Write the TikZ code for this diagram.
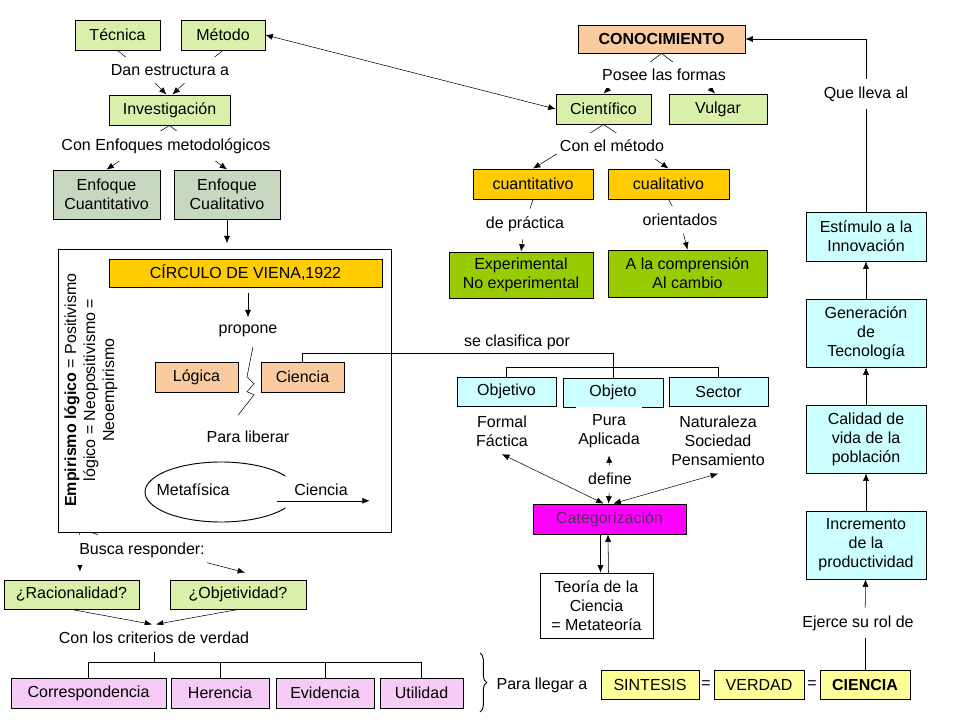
\documentclass[tikz,border=0pt]{standalone}
\usepackage{fontspec}
\setmainfont{Liberation Sans}
\usetikzlibrary{arrows.meta,calc,decorations.pathreplacing}
\definecolor{cmverde}{HTML}{DAF0AA}
\definecolor{cmgris}{HTML}{C8D8C0}
\definecolor{cmdurazno}{HTML}{FACB9E}
\definecolor{cmoro}{HTML}{FFCC00}
\definecolor{cmoliva}{HTML}{99CC00}
\definecolor{cmceleste}{HTML}{CCFFFF}
\definecolor{cmrosa}{HTML}{F6CBF6}
\definecolor{cmmagenta}{HTML}{FF00FF}
\definecolor{cmamarillo}{HTML}{FFFF99}
\definecolor{cmtexto}{HTML}{5A2A66}
\pgfdeclarelayer{fondo}
\pgfsetlayers{fondo,main}
\tikzset{
  concepto/.style={draw, align=center, inner sep=1pt, minimum height=22.5pt},
  enlace/.style={fill=white, align=center, inner xsep=2pt, inner ysep=5.5pt},
  flecha/.style={-{Latex[length=5.5pt,width=4.5pt]}},
  doble/.style={{Latex[length=5.5pt,width=4.5pt]}-{Latex[length=5.5pt,width=4.5pt]}},
}

\begin{document}
\begin{tikzpicture}[x=0.75pt,y=-0.75pt,line width=0.7pt,font=\fontsize{12}{14.25}\selectfont]
  \useasboundingbox (0,0) rectangle (960,720);
  % left column
  \node[concepto, fill=cmverde, minimum width=63.75pt] (tecnica) at (117.5,35) {Técnica};
  \node[concepto, fill=cmverde, minimum width=63pt] (metodo) at (223,35) {Método};
  \node[enlace] (dan) at (170,70) {Dan estructura a};
  \node[concepto, fill=cmverde, minimum width=90.75pt] (investig) at (169.5,110) {Investigación};
  \node[enlace] (conenf) at (166,146) {Con Enfoques metodológicos};
  \node[concepto, fill=cmgris, minimum width=80.25pt, minimum height=36.75pt] (enfcuant) at (106.5,194.5) {Enfoque\\Cuantitativo};
  \node[concepto, fill=cmgris, minimum width=79.5pt, minimum height=36.75pt] (enfcual) at (227,194.5) {Enfoque\\Cualitativo};

  \node[draw, minimum width=249.75pt, minimum height=212.25pt] (empir) at (224.5,390.5) {};
  \node[rotate=90, align=center] (empirtxt) at (91,390) {\textbf{Empirismo lógico} = Positivismo\\lógico = Neopositivismo =\\Neoempirismo};
  \node[concepto, fill=cmoro, minimum width=204.75pt, minimum height=21pt] (circulo) at (245.5,273) {CÍRCULO DE VIENA,1922};
  \node[enlace] (propone) at (248,331) {propone};
  \node[concepto, fill=cmdurazno, minimum width=62.25pt] (logica) at (196.5,377) {Lógica};
  \node[concepto, fill=cmdurazno, minimum width=62.25pt] (cienciab) at (302.5,377) {Ciencia};
  \node[enlace] (liberar) at (248,437) {Para liberar};
  \node (metafisica) at (193,490) {Metafísica};
  \node (cienciac) at (321,490) {Ciencia};

  \node[enlace] (busca) at (142,550) {Busca responder:};
  \node[concepto, fill=cmverde, minimum width=101.25pt, minimum height=21.75pt] (racional) at (71.5,594.5) {¿Racionalidad?};
  \node[concepto, fill=cmverde, minimum width=102pt, minimum height=21.75pt] (objetividad) at (238,594.5) {¿Objetividad?};
  \node[enlace] (criterios) at (154,638) {Con los criterios de verdad};
  \node[concepto, fill=cmrosa, minimum width=116.25pt] (corresp) at (88.5,693) {Correspondencia};
  \node[concepto, fill=cmrosa, minimum width=73.5pt] (herencia) at (220,693) {Herencia};
  \node[concepto, fill=cmrosa, minimum width=73.5pt] (evidencia) at (325,693) {Evidencia};
  \node[concepto, fill=cmrosa, minimum width=62.25pt] (utilidad) at (421.5,693) {Utilidad};

  % bottom row
  \node (llegar) at (542,685) {Para llegar a};
  \node[concepto, fill=cmamarillo, minimum width=73.5pt, minimum height=21.75pt] (sintesis) at (650,684.5) {SINTESIS};
  \node (igual1) at (706,685) {=};
  \node[concepto, fill=cmamarillo, minimum width=67.5pt, minimum height=21.75pt] (verdad) at (759,684.5) {VERDAD};
  \node (igual2) at (812,685) {=};
  \node[concepto, fill=cmamarillo, minimum width=67.5pt, minimum height=21.75pt] (cienciaf) at (865,684.5) {\textbf{CIENCIA}};

  % right column
  \node[concepto, fill=cmceleste, minimum width=90pt, minimum height=36.75pt] (estimulo) at (866,236.5) {Estímulo a la\\Innovación};
  \node[concepto, fill=cmceleste, minimum width=90pt, minimum height=51pt] (generacion) at (866,333) {Generación\\de\\Tecnología};
  \node[concepto, fill=cmceleste, minimum width=90pt, minimum height=51pt] (calidad) at (866,439) {Calidad de\\vida de la\\población};
  \node[concepto, fill=cmceleste, minimum width=90pt, minimum height=51pt] (incremento) at (866,545) {Incremento\\de la\\productividad};
  \node[enlace] (ejerce) at (858,623) {Ejerce su rol de};
  \node[enlace] (quelleva) at (866,94) {Que lleva al};

  % top middle
  \node[concepto, fill=cmdurazno, minimum width=125.25pt, minimum height=21pt] (conoc) at (661.5,39) {\textbf{CONOCIMIENTO}};
  \node[enlace] (posee) at (664,75) {Posee las formas};
  \node[concepto, fill=cmverde, minimum width=71.25pt] (cientifico) at (603.5,109) {Científico};
  \node[concepto, fill=cmverde, minimum width=73.5pt] (vulgar) at (718,109) {Vulgar};
  \node[enlace] (conmet) at (612,146) {Con el método};
  \node[concepto, fill=cmoro, minimum width=90pt] (cuanti) at (533,184) {cuantitativo};
  \node[concepto, fill=cmoro, minimum width=90.75pt] (cuali) at (668.5,184) {cualitativo};
  \node[enlace] (practica) at (525,224) {de práctica};
  \node[enlace] (orientados) at (680,220) {orientados};
  \node[concepto, fill=cmoliva, minimum width=108pt, minimum height=34.5pt] (experim) at (521,275) {Experimental\\No experimental};
  \node[concepto, fill=cmoliva, minimum width=119.25pt, minimum height=35.25pt] (comprension) at (687.5,273.5) {A la comprensión\\Al cambio};

  % middle
  \node[enlace, fill=none] (clasifica) at (517,342) {se clasifica por};
  \node[concepto, fill=cmceleste, minimum width=74.25pt, minimum height=21.75pt] (objetivo) at (506.5,391.5) {Objetivo};
  \node[concepto, fill=cmceleste, minimum width=75pt, minimum height=21.75pt] (objeto) at (613,392.5) {Objeto};
  \node[concepto, fill=cmceleste, minimum width=74.25pt, minimum height=21.75pt] (sector) at (718.5,391.5) {Sector};
  \node[enlace] (formal) at (502,431) {Formal\\Fáctica};
  \node[enlace] (pura) at (609,431) {Pura\\Aplicada};
  \node[enlace] (naturaleza) at (718,441) {Naturaleza\\Sociedad\\Pensamiento};
  \node[enlace] (define) at (610,479) {define};
  \node[concepto, fill=cmmagenta, text=cmtexto, minimum width=114.75pt] (categ) at (609.5,519) {Categorización};
  \node[concepto, fill=white, minimum width=84.75pt, minimum height=48.75pt] (teoria) at (596.5,605.5) {Teoría de la\\Ciencia\\= Metateoría};

  \draw (221,492) ++(32:57pt and 22.5pt) arc[start angle=32, end angle=328, x radius=57pt, y radius=22.5pt];
  \draw[decorate, decoration={brace, amplitude=5pt}] (480,653) -- (480,712);

  \begin{pgfonlayer}{fondo}
    \draw (tecnica.south) -- ($(dan)+(-28,0)$);
    \draw (metodo.south) -- ($(dan)+(28,0)$);
    \draw[flecha] ($(dan)+(-28,0)$) -- ($(investig.north)+(-3,0)$);
    \draw[flecha] ($(dan)+(28,0)$) -- ($(investig.north)+(3,0)$);
    \draw (investig.south) -- ($(conenf)+(-30,0)$);
    \draw (investig.south) -- ($(conenf)+(30,0)$);
    \draw[flecha] ($(conenf)+(-24,0)$) -- (enfcuant.north);
    \draw[flecha] ($(conenf)+(29,0)$) -- (enfcual.north);
    \draw[flecha, shorten >=4pt] (enfcual.south) -- (enfcual.south |- empir.north);
    \draw[flecha, shorten <=4.5pt] (propone.north |- circulo.south) -- (propone.north);
    \draw ($(propone.south)+(5,2)$) -- ++(-6,30) -- ++(7,7) -- ++(-7,8) -- ++(7,3) -- ($(liberar.north)+(-10,-8)$);
    \draw (cienciab.north) -- ++(0,-8) -| (objeto.north);
    \draw (objetivo.north) -- ++(0,-9) -| (sector.north);
    \draw[flecha] ($(cienciac.south west)+(-12,0)$) -- ($(cienciac.south east)+(17,0)$);

    \draw[flecha] ($(empir.south west)+(22,0)$) -- ($(racional.north)+(8.5,-8)$);
    \draw ($(empir.south west)+(34,0)$) -- (busca);
    \draw[flecha] ($(busca)+(16,0)$) -- ($(objetividad.north)+(7,-7)$);
    \draw[flecha] (racional.south) -- ($(criterios.north)+(-2,0)$);
    \draw[flecha] (objetividad.south) -- ($(criterios.north)+(2,0)$);
    \draw (corresp.north) -- ++(0,-15) coordinate (tronco) -| (utilidad.north);
    \draw (herencia.north) -- ++(0,-15.5) -| (evidencia.north);
    \draw (criterios.south) -- (criterios.south |- tronco);

    \draw[doble] (metodo.east) -- (cientifico.west);
    \draw (conoc.south) -- ($(posee)+(-31,0)$);
    \draw (conoc.south) -- ($(posee)+(26,0)$);
    \draw[flecha] ($(posee)+(-41,0)$) -- (cientifico.north);
    \draw[flecha] ($(posee)+(33,0)$) -- ($(vulgar.north)+(-3,0)$);
    \draw (cientifico.south) -- ($(conmet)+(-42,0)$);
    \draw (cientifico.south) -- ($(conmet)+(24,0)$);
    \draw[flecha] ($(conmet)+(-42,0)$) -- (cuanti.north);
    \draw[flecha] ($(conmet)+(25,0)$) -- (cuali.north);
    \draw (cuanti.south) -- (practica);
    \draw[flecha] (practica) -- (experim.north);
    \draw (cuali.south) -- (orientados);
    \draw[flecha] (orientados) -- (comprension.north);

    \draw[doble] (formal.south) -- ($(categ.north)+(-6,0)$);
    \draw[doble] (naturaleza.south) -- ($(categ.north)+(4,0)$);
    \draw[flecha] (define) -- (pura.south);
    \draw[flecha] (define) -- ($(categ.north)+(-1,0)$);
    \draw[flecha] ($(categ.south)+(-9,0)$) -- ($(teoria.north)+(4,0)$);
    \draw[flecha] ($(teoria.north)+(12,0)$) -- ($(categ.south)+(-1.5,0)$);

    \draw[flecha] (incremento) -- (calidad);
    \draw[flecha] (calidad) -- (generacion);
    \draw[flecha] (generacion) -- (estimulo);
    \draw (estimulo) -- (quelleva);
    \draw[flecha] (quelleva) |- (conoc.east);
    \draw (cienciaf) -- (cienciaf |- ejerce);
    \draw[flecha] (cienciaf |- ejerce) -- (incremento);
  \end{pgfonlayer}
\end{tikzpicture}
\end{document}
